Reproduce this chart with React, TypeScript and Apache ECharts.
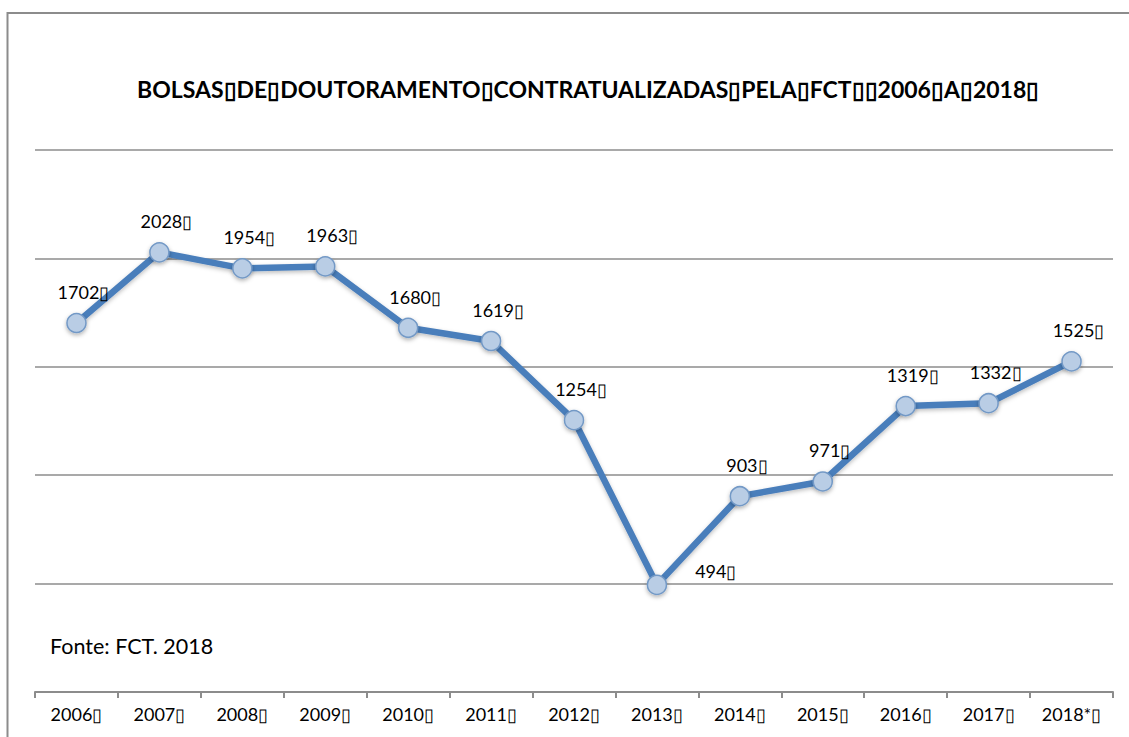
import React, { useEffect, useRef } from "react";
import * as echarts from "echarts";

const T = "\u25AF";
const titleText = `BOLSAS${T}DE${T}DOUTORAMENTO${T}CONTRATUALIZADAS${T}PELA${T}FCT${T}${T}2006${T}A${T}2018${T}`;
const sourceText = "Fonte: FCT. 2018";
const categories = ["2006", "2007", "2008", "2009", "2010", "2011", "2012", "2013", "2014", "2015", "2016", "2017", "2018*"];
const values = [1702, 2028, 1954, 1963, 1680, 1619, 1254, 494, 903, 971, 1319, 1332, 1525];
const yMin = 0;
const yMax = 2500;
const yStep = 500;

export default function App() {
  const ref = useRef<HTMLDivElement>(null);
  useEffect(() => {
    if (!ref.current) return;
    const chart = echarts.init(ref.current, null, { renderer: "svg" });
    const font = "Lato, 'Open Sans', sans-serif";
    chart.setOption({
      animation: false,
      backgroundColor: "#ffffff",
      textStyle: { fontFamily: font },
      graphic: [
        {
          type: "rect",
          shape: { x: 7.5, y: 13, width: 1200, height: 800 },
          style: { fill: "none", stroke: "#8c8c8c", lineWidth: 2 },
          silent: true,
        },
        {
          type: "text",
          left: 50,
          top: 635,
          style: { text: sourceText, fontSize: 21.5, fontFamily: font, fill: "#000" },
        },
      ],
      title: {
        text: titleText,
        left: 132,
        top: 72,
        textStyle: { fontSize: 23, fontWeight: "bold", color: "#000", fontFamily: font },
      },
      grid: { left: 35, right: 16, top: 150, bottom: 45, containLabel: false },
      xAxis: {
        type: "category",
        data: categories.map((c) => c + T),
        boundaryGap: true,
        axisLine: { lineStyle: { color: "#8c8c8c", width: 2 } },
        axisTick: { show: true, length: 6, lineStyle: { color: "#8c8c8c", width: 2 } },
        axisLabel: { color: "#000", fontSize: 18, margin: 13, fontFamily: font },
      },
      yAxis: {
        type: "value",
        min: yMin,
        max: yMax,
        interval: yStep,
        axisLine: { show: false },
        axisTick: { show: false },
        axisLabel: { show: false },
        splitLine: { lineStyle: { color: "#8c8c8c", width: 1.5 } },
      },
      series: [
        {
          type: "line",
          data: values.map((v, i) =>
            i === 7
              ? { value: v, label: { position: "right", distance: 28, offset: [0, -14] } }
              : v
          ),
          lineStyle: {
            color: "#4a7ebb",
            width: 6.5,
            shadowColor: "rgba(0,0,0,0.25)",
            shadowBlur: 4,
            shadowOffsetY: 2,
          },
          symbol: "circle",
          symbolSize: 19,
          itemStyle: {
            color: "#b9cde5",
            borderColor: "#7399c6",
            borderWidth: 1.5,
            shadowColor: "rgba(0,0,0,0.3)",
            shadowBlur: 4,
            shadowOffsetY: 2,
          },
          label: {
            show: true,
            position: "top",
            distance: 12,
            offset: [7, 0],
            color: "#000",
            fontSize: 18,
            fontFamily: font,
            formatter: (p: any) => `${p.value}${T}`,
          },
        },
      ],
    });
    return () => chart.dispose();
  }, []);
  return <div ref={ref} style={{ position: "fixed", left: 0, top: 0, width: 1129, height: 737 }} />;
}
